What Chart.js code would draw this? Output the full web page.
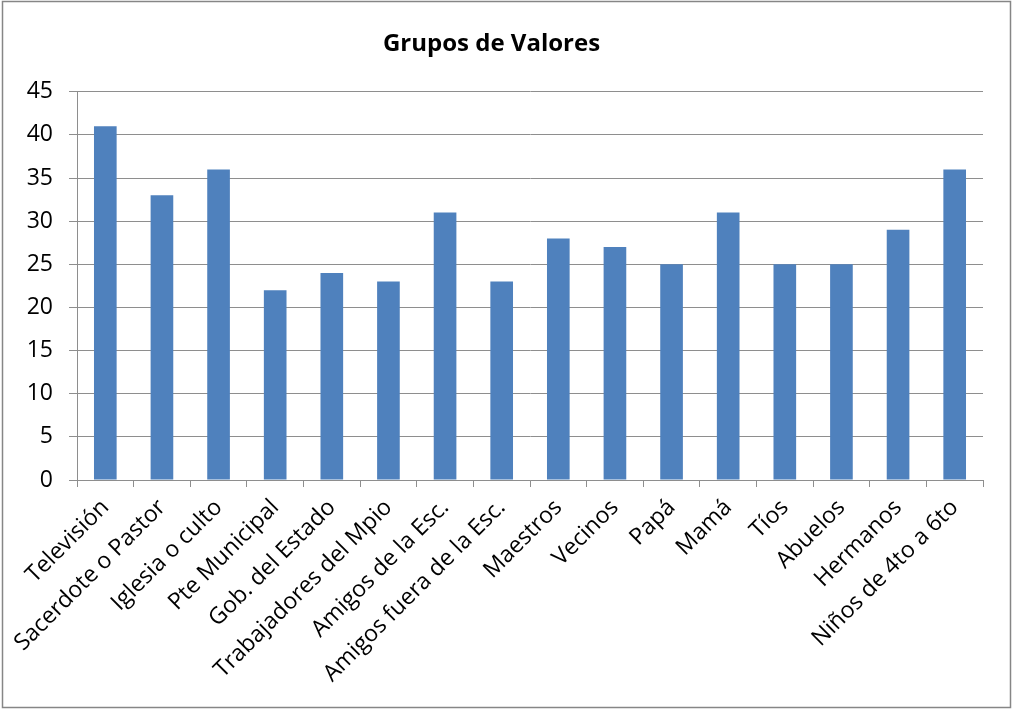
<!DOCTYPE html>
<html>
<head>
<meta charset="utf-8">
<script src="https://cdn.jsdelivr.net/npm/chart.js@4.4.1/dist/chart.umd.min.js"></script>
<style>
  html, body { margin: 0; padding: 0; background: #fff; }
  #wrap { position: relative; width: 1013px; height: 712px; }
</style>
</head>
<body>
<div id="wrap"><canvas id="chart" width="1013" height="712"></canvas></div>
<script>
const categories = [
    'Televisión', 'Sacerdote o Pastor', 'Iglesia o culto', 'Pte Municipal',
    'Gob. del Estado', 'Trabajadores del Mpio', 'Amigos de la Esc.',
    'Amigos fuera de la Esc.', 'Maestros', 'Vecinos', 'Papá', 'Mamá',
    'Tíos', 'Abuelos', 'Hermanos', 'Niños de 4to a 6to'
];
const values = [41, 33, 36, 22, 24, 23, 31, 23, 28, 27, 25, 31, 25, 25, 29, 36];
const yTicks = [0, 5, 10, 15, 20, 25, 30, 35, 40, 45];

const fontFamily = '"Open Sans", "Noto Sans", sans-serif';
const gridColor = '#8e8e8e';

// marco exterior del gráfico
const framePlugin = {
    id: 'frame',
    beforeDraw(chart) {
        const c = chart.ctx;
        c.save();
        c.fillStyle = '#ffffff';
        c.fillRect(0, 0, chart.width, chart.height);
        c.strokeStyle = '#868686';
        c.lineWidth = 1.5;
        c.strokeRect(2.5, 1.5, 1008, 706);
        c.restore();
    }
};

new Chart(document.getElementById('chart'), {
    type: 'bar',
    data: {
        labels: categories,
        datasets: [{
            data: values,
            backgroundColor: '#4f81bd',
            borderWidth: 0,
            categoryPercentage: 1,
            barPercentage: 0.4
        }]
    },
    options: {
        responsive: false,
        animation: false,
        layout: { padding: { left: 0, right: 30, top: 0, bottom: 0 } },
        plugins: {
            legend: { display: false },
            tooltip: { enabled: false },
            title: {
                display: true,
                text: 'Grupos de Valores',
                color: '#000',
                font: { family: fontFamily, size: 24, weight: 'bold' },
                padding: { top: 30, bottom: 33 }
            }
        },
        scales: {
            y: {
                min: 0, max: 45,
                afterBuildTicks(scale) { scale.ticks = yTicks.map(v => ({ value: v })); },
                afterFit(scale) { scale.width = 77; },
                grid: { color: gridColor, lineWidth: 1, tickLength: 8 },
                border: { color: gridColor, width: 1 },
                ticks: { color: '#000', padding: 16, font: { family: fontFamily, size: 23 } }
            },
            x: {
                afterFit(scale) {
                    scale.height = 232;
                    scale.paddingLeft = 0;
                    scale.paddingRight = 0;
                },
                grid: { drawOnChartArea: false, color: gridColor, tickLength: 7, offset: true },
                border: { color: gridColor, width: 1 },
                ticks: {
                    color: '#000', padding: 7, autoSkip: false,
                    maxRotation: 45, minRotation: 45,
                    font: { family: fontFamily, size: 23 }
                }
            }
        }
    },
    plugins: [framePlugin]
});
</script>
</body>
</html>
